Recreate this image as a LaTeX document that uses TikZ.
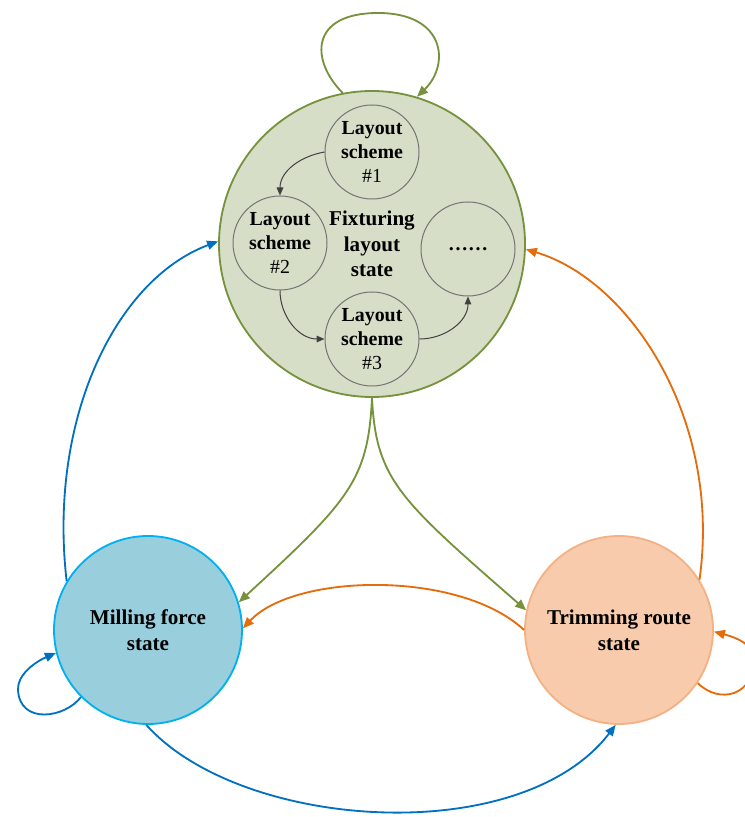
\documentclass[tikz,border=0pt]{standalone}
\usepackage{fontspec}
\setmainfont{Liberation Serif}
\usetikzlibrary{arrows.meta}

\definecolor{fixgreen}{RGB}{118,146,60}
\definecolor{fixfill}{RGB}{215,222,200}
\definecolor{millblue}{RGB}{0,112,192}
\definecolor{millfill}{RGB}{153,206,221}
\definecolor{millline}{RGB}{0,176,240}
\definecolor{trimorange}{RGB}{228,108,10}
\definecolor{trimfill}{RGB}{248,203,173}
\definecolor{trimline}{RGB}{244,177,131}

\tikzset{
	statenode/.style={circle, line width=0.55mm, inner sep=0pt, align=center, font=\fontsize{18}{22}\selectfont\bfseries},
	schemenode/.style={circle, draw=black!55, line width=0.3mm, minimum size=28.2mm, inner sep=0pt, align=center, font=\fontsize{17}{20.5}\selectfont\bfseries},
	statearrow/.style={line width=0.55mm, -{Triangle[length=3.3mm,width=2.7mm]}},
	schemearrow/.style={line width=0.3mm, draw=black!75, -{Triangle[length=2.4mm,width=2mm]}},
}

\begin{document}
\begin{tikzpicture}[x=0.3mm, y=0.3mm]
		%%%%% START %%%%%
		\useasboundingbox (0, 0) rectangle (745, 817);
		
		\node[statenode, draw=fixgreen, fill=fixfill, minimum size=91.8mm] (fix) at (372, 573) {Fixturing\\layout\\state};
		\node[statenode, draw=millline, fill=millfill, minimum size=56.4mm] (mill) at (148, 187) {Milling force\\state};
		\node[statenode, draw=trimline, fill=trimfill, minimum size=56.4mm] (trim) at (619, 187) {Trimming route\\state};
		
		\node[schemenode] (scheme1) at (372, 665) {Layout\\scheme\\\textmd{\#1}};
		\node[schemenode] (scheme2) at (280, 574) {Layout\\scheme\\\textmd{\#2}};
		\node[schemenode] (scheme3) at (372, 478) {Layout\\scheme\\\textmd{\#3}};
		\node[schemenode] (more) at (468, 568) {\ldots\ldots};
		
		\draw[schemearrow] (scheme1.west) to[out=190, in=90] (scheme2.north);
		\draw[schemearrow] (scheme2.south) to[out=270, in=180] (scheme3.west);
		\draw[schemearrow] (scheme3.east) to[out=0, in=270] (more.south);
		
		% self loops
		\draw[statearrow, fixgreen] (fix.101) .. controls (310, 757) and (310, 804) .. (378, 804) .. controls (446, 804) and (450, 752) .. (fix.73);
		\draw[statearrow, millblue] (mill.225) .. controls (65, 99) and (20, 92) .. (18, 127) .. controls (17, 142) and (35, 155) .. (mill.194);
		\draw[statearrow, trimorange] (trim.326) .. controls (720, 112) and (754, 122) .. (754, 157) .. controls (754, 172) and (738, 179) .. (trim.359);
		
		% between states
		\draw[statearrow, fixgreen] (fix.270) .. controls (368, 337) and (350, 317) .. (mill.17);
		\draw[statearrow, fixgreen] (fix.270) .. controls (376, 337) and (400, 317) .. (trim.168);
		\draw[statearrow, millblue] (mill.149) .. controls (48, 397) and (115, 537) .. (fix.179);
		\draw[statearrow, millblue] (mill.269) .. controls (240, -13) and (520, -33) .. (trim.268);
		\draw[statearrow, trimorange] (trim.32) .. controls (722, 397) and (630, 537) .. (fix.358);
		\draw[statearrow, trimorange] (trim.180) .. controls (460, 247) and (295, 244) .. (mill.1);
		
		%%%%% END %%%%%
	\end{tikzpicture}
\end{document}
